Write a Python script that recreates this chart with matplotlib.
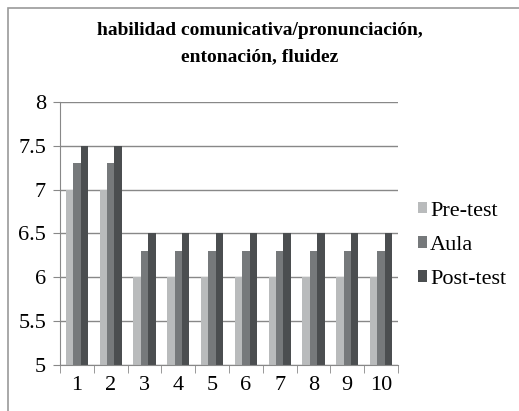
import numpy as np
import matplotlib
matplotlib.use("Agg")
import matplotlib.pyplot as plt
from matplotlib.patches import Rectangle

plt.rcParams["font.family"] = ["Liberation Serif", "DejaVu Serif"]

CATS = ["1", "2", "3", "4", "5", "6", "7", "8", "9", "10"]
PRE = [7, 7, 6, 6, 6, 6, 6, 6, 6, 6]
AULA = [7.3, 7.3, 6.3, 6.3, 6.3, 6.3, 6.3, 6.3, 6.3, 6.3]
POST = [7.5, 7.5, 6.5, 6.5, 6.5, 6.5, 6.5, 6.5, 6.5, 6.5]
SERIES = [("Pre-test", PRE, "#b9bbbc"), ("Aula", AULA, "#76797b"), ("Post-test", POST, "#4b4e50")]

fig = plt.figure(figsize=(5.19, 4.11), dpi=100)
# outer chart frame (only top/left visible in the reference)
fig.patches.append(Rectangle((8 / 519, -0.05), 1.2, 1 - 8 / 411 + 0.05, transform=fig.transFigure,
                             fill=False, ec="#9a9a9a", lw=1.2))
ax = fig.add_axes([60 / 519, 46 / 411, 338 / 519, 263 / 411])

x = np.arange(len(CATS))
w = 0.217
for k, (lab, vals, col) in enumerate(SERIES):
    ax.bar(x + (k - 1) * w, np.array(vals) - 5, width=w, bottom=5, color=col, label=lab, zorder=2)

ax.set_ylim(5, 8)
ax.set_yticks(np.arange(5, 8.01, 0.5))
ax.set_yticklabels(["5", "5.5", "6", "6.5", "7", "7.5", "8"])
ax.set_xlim(-0.5, len(CATS) - 0.5)
ax.set_xticks(x)
ax.set_xticklabels(CATS)
ax.set_xticks(np.arange(-0.5, len(CATS)), minor=True)
ax.tick_params(axis="x", which="major", length=0, labelsize=16, pad=8)
ax.tick_params(axis="x", which="minor", length=6, color="#888888")
ax.tick_params(axis="y", length=5, color="#888888", labelsize=16, pad=5)
ax.grid(axis="y", color="#888888", lw=1, zorder=0)
for s in ("top", "right"):
    ax.spines[s].set_visible(False)
for s in ("left", "bottom"):
    ax.spines[s].set_color("#888888")

fig.text(0.5, 0.947, "habilidad comunicativa/pronunciación,\nentonación, fluidez",
         ha="center", va="top", fontsize=14, fontweight="bold", linespacing=1.75)

ax.legend(loc="center left", bbox_to_anchor=(1.0, 0.455), frameon=False, fontsize=16,
          handlelength=0.4, handleheight=0.4, handletextpad=0.15, labelspacing=0.68)

fig.savefig("out.png", dpi=100)
